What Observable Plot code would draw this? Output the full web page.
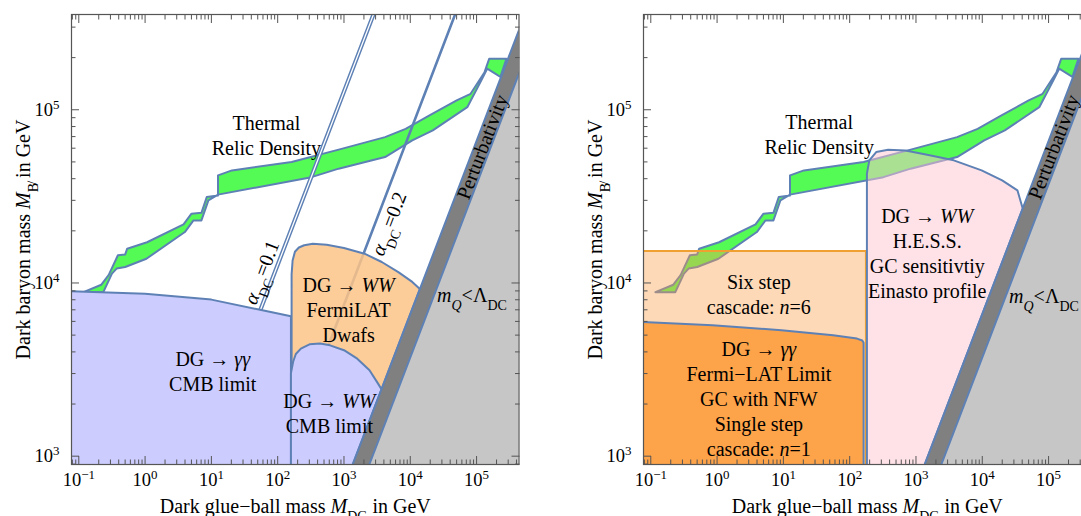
<!DOCTYPE html>
<html><head><meta charset="utf-8">
<script src="https://cdn.jsdelivr.net/npm/d3@7"></script>
<script src="https://cdn.jsdelivr.net/npm/@observablehq/plot@0.6"></script>
<style>
html,body{margin:0;padding:0;background:#fff;overflow:hidden;}
#wrap{position:relative;width:1081px;height:516px;overflow:hidden;}
#left,#right{position:absolute;top:0;width:571px;height:516px;}
#left{left:0}
#right{left:571.5px}
svg, svg text, svg tspan{font-family:"Liberation Serif","Times New Roman",serif !important;}
</style></head>
<body><div id="wrap"><div id="left"></div><div id="right"></div></div>
<script>
// All points: [log10(M_DG / GeV), log10(M_B / GeV)]
const xDomainExp = [-1.11, 5.64];
const yDomainExp = [2.952, 5.55];

const relicUpper = [[-0.93,3.947],[-0.66,3.99],[-0.55,4.045],[-0.41,4.16],[-0.30,4.165],[-0.27,4.198],[0.03,4.235],[0.58,4.338],[0.70,4.40],[0.85,4.405],[0.93,4.496],[1.10,4.505],[1.10,4.621],[1.31,4.65],[2.21,4.698],[2.92,4.77],[3.62,4.842],[3.93,4.89],[4.29,4.967],[4.70,5.054],[4.91,5.092],[5.12,5.217],[5.19,5.294],[5.45,5.294],[5.36,5.19]];
const relicLower = [[5.16,5.237],[5.07,5.169],[4.86,5.015],[4.34,4.881],[4.03,4.823],[3.62,4.727],[2.92,4.66],[2.51,4.611],[1.10,4.51],[0.955,4.477],[0.85,4.361],[0.73,4.361],[0.60,4.294],[0.02,4.14],[-0.30,4.092],[-0.43,4.083],[-0.50,4.054],[-0.63,3.947]];

const cmbGammaRegion = [[-1.3,3.955],[0,3.938],[1,3.904],[1.77,3.842],[2.2,3.808],[2.2,2.8],[-1.3,2.8]];
const fermiDwarfRegion = [[2.21,2.8],[2.21,4.05],[2.225,4.13],[2.26,4.18],[2.32,4.205],[2.40,4.218],[2.53,4.227],[2.74,4.221],[3.0,4.202],[3.31,4.169],[3.57,4.121],[3.82,4.063],[4.03,4.006],[4.145,3.965],[3.0,2.82]];
const cmbWWRegion = [[2.2,2.8],[2.2,3.48],[2.233,3.545],[2.274,3.59],[2.35,3.621],[2.48,3.646],[2.64,3.65],[2.79,3.64],[3.0,3.612],[3.2,3.563],[3.385,3.496],[3.514,3.419],[3.566,3.386],[3.0,2.82]];

const sixStepRegion = [[-1.3,4.185],[2.245,4.185],[2.245,2.8],[-1.3,2.8]];
const fermiGCRegion = [[-1.3,3.778],[-0.07,3.756],[0.97,3.727],[1.75,3.698],[2.11,3.679],[2.19,3.668],[2.21,3.655],[2.21,2.8],[-1.3,2.8]];
const hessRegion = [[2.26,2.8],[2.26,4.631],[2.296,4.708],[2.40,4.756],[2.58,4.769],[2.84,4.765],[3.15,4.742],[3.57,4.708],[3.99,4.65],[4.30,4.592],[4.53,4.535],[4.61,4.43],[2.98,2.8]];

const pertEdgeStrong = [[3.0,2.82],[5.8,5.62]];
const pertEdgeWeak = [[3.2,2.77],[6.0,5.57]];
const confinedCorner = [[6.0,2.77]];

const alpha01 = [[1.74,3.845],[3.50,5.605]];
const alpha02 = [[2.70,3.574],[4.75,5.624]];

const xMajorExp = [-1,0,1,2,3,4,5];
const yMajorExp = [3,4,5];
const minorMult = [2,3,4,5,6,7,8,9];

const leftLabels = [
  {x:1.83, y:4.857, text:"Thermal\nRelic Density"},
  {x:3.07, y:3.852, text:"DG → *WW*\nFermiLAT\nDwafs"},
  {x:1.02, y:3.496, text:"DG → *γγ*\nCMB limit"},
  {x:2.78, y:3.251, text:"DG → *WW*\nCMB limit"},
  {x:4.93, y:3.938, text:"*m*_{*Q*}<Λ_{DC}"}
];
const leftRotLabels = [
  {x:1.76, y:4.06, text:"*α*_{DC}=0.1"},
  {x:3.68, y:4.342, text:"*α*_{DC}=0.2"},
  {x:5.09, y:4.785, text:"Perturbativity"}
];
const rightLabels = [
  {x:1.54, y:4.863, text:"Thermal\nRelic Density"},
  {x:3.17, y:4.174, text:"DG → *WW*\nH.E.S.S.\nGC sensitivtiy\nEinasto profile"},
  {x:0.63, y:3.94, text:"Six step\ncascade: *n*=6"},
  {x:0.63, y:3.335, text:"DG → *γγ*\nFermi−LAT Limit\nGC with NFW\nSingle step\ncascade: *n*=1"},
  {x:4.93, y:3.929, text:"*m*_{*Q*}<Λ_{DC}"}
];
const rightRotLabels = [
  {x:5.08, y:4.785, text:"Perturbativity"}
];
const xTitle = "Dark glue−ball mass *M*_{DG} in GeV";
const yTitle = "Dark baryon mass *M*_{B\u0338} in GeV";

// colours
const BLUE = "#5e81b5", FRAME = "#555";
const GREEN = "#55fb55", LAV = "#ccccfe", LORANGE = "#fcc387", DORANGE = "#fda34a";
const SIXSTEP = "#faa04b", PINK = "#fdc5cf", DGRAY = "#808080", LGRAY = "#c6c6c6";

const P = ([a,b]) => ({x: 10**a, y: 10**b});
const lo = 10**xDomainExp[0], hi = 10**xDomainExp[1], ylo = 10**yDomainExp[0], yhi = 10**yDomainExp[1];
const inX = v => v >= lo && v <= hi, inY = v => v >= ylo && v <= yhi;
const xMajor = xMajorExp.map(e => 10**e).filter(inX);
const xMinor = [-2,...xMajorExp].flatMap(e => minorMult.map(m => m*10**e)).filter(inX);
const yMajor = yMajorExp.map(e => 10**e).filter(inY);
const yMinor = [2,...yMajorExp].flatMap(e => minorMult.map(m => m*10**e)).filter(inY);
const fmt = d => "10^{" + String(Math.round(Math.log10(d))).replace("-", "−") + "}";

function poly(pts, o) { return Plot.line(pts.map(P), {x:"x", y:"y", curve:"linear-closed", clip:true, ...o}); }
function path(pts, o) { return Plot.line(pts.map(P), {x:"x", y:"y", clip:true, ...o}); }

function perturbMarks() {
  const band = [...pertEdgeStrong, ...pertEdgeWeak.slice().reverse()];
  const conf = [...pertEdgeWeak, ...confinedCorner];
  return [
    poly(conf, {fill: LGRAY, stroke: "none"}),
    poly(band, {fill: DGRAY, stroke: "none"}),
    path(pertEdgeStrong, {stroke: BLUE, strokeWidth: 2}),
    path(pertEdgeWeak, {stroke: BLUE, strokeWidth: 2})
  ];
}
function relicMark() {
  return poly([...relicUpper, ...relicLower], {fill: GREEN, stroke: BLUE, strokeWidth: 2, strokeLinejoin: "round"});
}
function axisMarks() {
  const fs = 18.5;
  return [
    Plot.axisX({anchor:"bottom", ticks:xMajor, tickSize:8, dy:-8, fill:"none", stroke:FRAME, label:null}),
    Plot.axisX({anchor:"bottom", ticks:xMinor, tickSize:4.5, dy:-4.5, fill:"none", stroke:FRAME, label:null}),
    Plot.axisX({anchor:"top", ticks:xMajor, tickSize:8, dy:8, fill:"none", stroke:FRAME, label:null}),
    Plot.axisX({anchor:"top", ticks:xMinor, tickSize:4.5, dy:4.5, fill:"none", stroke:FRAME, label:null}),
    Plot.axisY({anchor:"left", ticks:yMajor, tickSize:8, dx:8, fill:"none", stroke:FRAME, label:null}),
    Plot.axisY({anchor:"left", ticks:yMinor, tickSize:4.5, dx:4.5, fill:"none", stroke:FRAME, label:null}),
    Plot.axisY({anchor:"right", ticks:yMajor, tickSize:8, dx:-8, fill:"none", stroke:FRAME, label:null}),
    Plot.axisY({anchor:"right", ticks:yMinor, tickSize:4.5, dx:-4.5, fill:"none", stroke:FRAME, label:null}),
    Plot.axisX({anchor:"bottom", ticks:xMajor, tickSize:0, tickPadding:8, tickFormat:fmt, fontSize:fs, fill:"black", label:null}),
    Plot.axisY({anchor:"left", ticks:yMajor, tickSize:0, tickPadding:12, tickFormat:fmt, fontSize:fs, fill:"black", label:null}),
    Plot.text([xTitle], {frameAnchor:"bottom", dy:42, lineAnchor:"middle", textAnchor:"middle", text:d=>d, fontSize:20}),
    Plot.text([yTitle], {frameAnchor:"left", dx:-47.5, rotate:-90, lineAnchor:"middle", textAnchor:"middle", text:d=>d, fontSize:20}),
    Plot.frame({stroke:FRAME, strokeWidth:1.2})
  ];
}
function labelMarks(labels, rot) {
  return [
    Plot.text(labels, {x:d=>10**d.x, y:d=>10**d.y, text:"text", fontSize:20, lineHeight:1.25, fill:"black"}),
    Plot.text(rot, {x:d=>10**d.x, y:d=>10**d.y, text:"text", fontSize:20, rotate:-69, fill:"black"})
  ];
}
function base(marks) {
  return Plot.plot({
    width: 571, height: 516,
    marginLeft: 71, marginRight: 52.5, marginTop: 14, marginBottom: 52,
    style: {fontFamily: "'Liberation Serif', 'Times New Roman', serif", fontSize: "20px", color: "black", background: "transparent"},
    x: {type:"log", domain:[lo, hi], label:null},
    y: {type:"log", domain:[ylo, yhi], label:null},
    marks
  });
}

const leftSvg = base([
  relicMark(),
  path(alpha01, {stroke: BLUE, strokeWidth: 4.2}),
  path(alpha01, {stroke: "white", strokeWidth: 1.3}),
  path(alpha02, {stroke: BLUE, strokeWidth: 2.6}),
  poly(cmbGammaRegion, {fill: LAV, stroke: BLUE, strokeWidth: 2}),
  poly(fermiDwarfRegion, {fill: LORANGE, fillOpacity: 0.85, stroke: BLUE, strokeWidth: 2}),
  poly(cmbWWRegion, {fill: LAV, stroke: BLUE, strokeWidth: 2}),
  ...perturbMarks(),
  ...labelMarks(leftLabels, leftRotLabels),
  ...axisMarks()
]);

const rightSvg = base([
  relicMark(),
  poly(sixStepRegion, {fill: SIXSTEP, fillOpacity: 0.4, stroke: "#f0a030", strokeWidth: 2}),
  poly(fermiGCRegion, {fill: DORANGE, stroke: BLUE, strokeWidth: 2}),
  poly(hessRegion, {fill: PINK, fillOpacity: 0.5, stroke: BLUE, strokeWidth: 2}),
  ...perturbMarks(),
  ...labelMarks(rightLabels, rightRotLabels),
  ...axisMarks()
]);

const NS = "http://www.w3.org/2000/svg";
function appendRich(parent, s) {
  const re = /\*([^*]+)\*|\^\{([^}]*)\}|_\{([^}]*)\}/g;
  let last = 0, m;
  while ((m = re.exec(s))) {
    if (m.index > last) parent.appendChild(document.createTextNode(s.slice(last, m.index)));
    const ts = document.createElementNS(NS, "tspan");
    if (m[1] !== undefined) { ts.setAttribute("font-style", "italic"); ts.textContent = m[1]; }
    else {
      ts.setAttribute("baseline-shift", m[2] !== undefined ? "super" : "sub");
      ts.setAttribute("font-size", "70%");
      appendRich(ts, m[2] !== undefined ? m[2] : m[3]);
    }
    parent.appendChild(ts);
    last = re.lastIndex;
  }
  if (last < s.length) parent.appendChild(document.createTextNode(s.slice(last)));
}
function richify(svg) {
  svg.querySelectorAll("text").forEach(t => {
    const spans = t.querySelectorAll(":scope > tspan");
    const targets = spans.length ? [...spans] : [t];
    targets.forEach(el => {
      const s = el.textContent;
      if (/[*^_]/.test(s)) { el.textContent = ""; appendRich(el, s); }
    });
  });
}
richify(leftSvg); richify(rightSvg);
document.getElementById("left").appendChild(leftSvg);
document.getElementById("right").appendChild(rightSvg);
</script></body></html>
